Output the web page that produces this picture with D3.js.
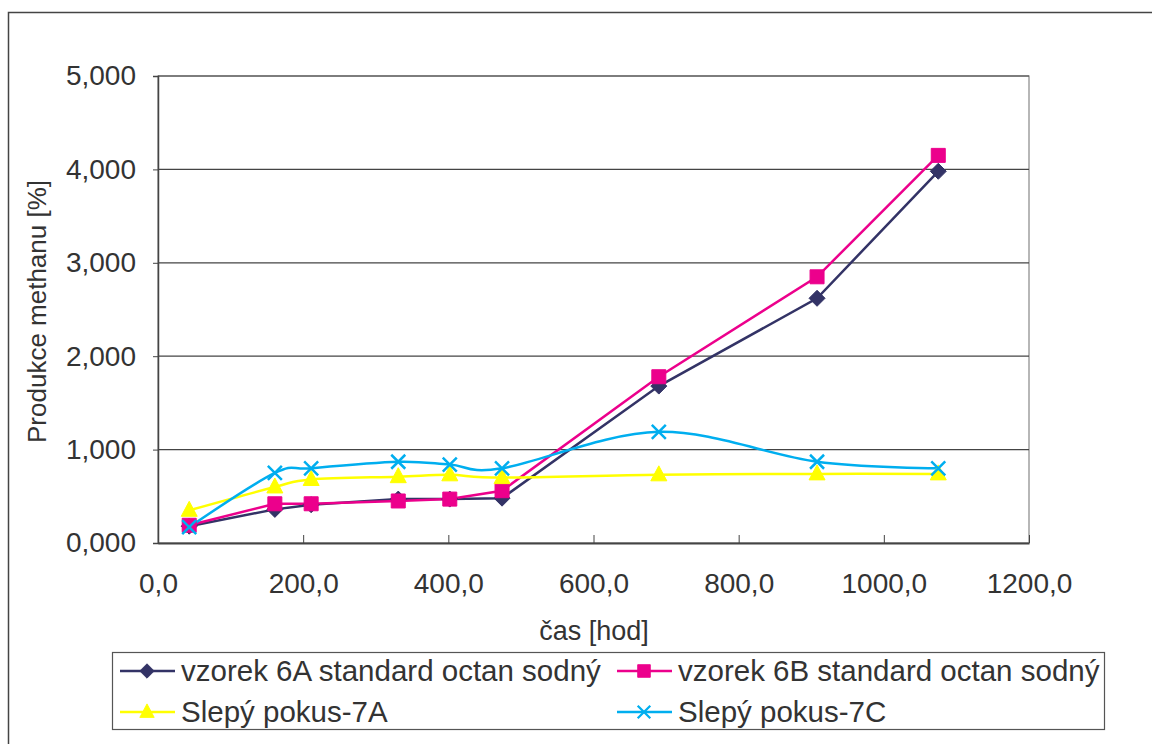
<!DOCTYPE html>
<html>
<head>
<meta charset="utf-8">
<script src="https://cdn.jsdelivr.net/npm/d3@7"></script>
<style>
  body { margin: 0; background: #fff; }
  text { font-family: "Liberation Sans", Arial, sans-serif; fill: #333; }
</style>
</head>
<body>
<script>
// data
let hours = [43, 161, 211, 331, 402, 474, 690, 908, 1075];
let vzorek6A = [0.18, 0.36, 0.41, 0.47, 0.47, 0.48, 1.68, 2.62, 3.98];
let vzorek6B = [0.19, 0.42, 0.42, 0.45, 0.47, 0.56, 1.78, 2.85, 4.15];
let slepy7A = [0.35, 0.60, 0.68, 0.71, 0.73, 0.70, 0.73, 0.74, 0.74];
let slepy7C = [0.17, 0.75, 0.80, 0.87, 0.84, 0.80, 1.19, 0.87, 0.80];
let seriesNames = ["vzorek 6A standard octan sodný", "vzorek 6B standard octan sodný", "Slepý pokus-7A", "Slepý pokus-7C"];
let xTicks = [0, 200, 400, 600, 800, 1000, 1200];
let yTicks = [0, 1, 2, 3, 4, 5];

let series = [
  {name: seriesNames[0], values: vzorek6A, color: "#333366", marker: "diamond", smooth: false},
  {name: seriesNames[1], values: vzorek6B, color: "#ec008c", marker: "square", smooth: false},
  {name: seriesNames[2], values: slepy7A, color: "#ffff00", marker: "triangle", smooth: true},
  {name: seriesNames[3], values: slepy7C, color: "#00aeef", marker: "cross", smooth: true}
];

let W = 1152, H = 744;
let margin = {top: 76, right: 123, bottom: 201, left: 158},
    width = W - margin.left - margin.right,
    height = H - margin.top - margin.bottom;

let svg = d3.select("body").append("svg")
    .attr("width", W)
    .attr("height", H);

// outer chart border
svg.append("rect")
    .attr("x", 8.5).attr("y", 12.5)
    .attr("width", W + 20).attr("height", H + 20)
    .attr("fill", "none").attr("stroke", "#444").attr("stroke-width", 1.5);

let g = svg.append("g")
    .attr("transform", "translate(" + margin.left + "," + margin.top + ")");

let x = d3.scaleLinear().domain([0, 1200]).range([0, width]);
let y = d3.scaleLinear().domain([0, 5]).range([height, 0]);

// plot frame
g.append("rect")
    .attr("width", width).attr("height", height)
    .attr("fill", "none").attr("stroke", "#888").attr("stroke-width", 1.2);

// gridlines
g.selectAll(".grid").data(yTicks.slice(1))
  .enter().append("line")
    .attr("x1", 0).attr("x2", width)
    .attr("y1", d => y(d)).attr("y2", d => y(d))
    .attr("stroke", "#444").attr("stroke-width", 1.2);

// y axis
let yAxis = g.append("g")
    .call(d3.axisLeft(y).tickValues(yTicks).tickSize(5).tickPadding(17)
      .tickFormat(d => d3.format(".3f")(d).replace(".", ",")));
yAxis.select(".domain").attr("stroke", "#444").attr("stroke-width", 1.5);
yAxis.selectAll(".tick line").attr("stroke", "#444");
yAxis.selectAll("text").attr("font-size", 28).attr("fill", "#333");

// x axis
let xAxis = g.append("g")
    .attr("transform", "translate(0," + height + ")")
    .call(d3.axisBottom(x).tickValues(xTicks).tickSizeInner(-8).tickSizeOuter(0).tickPadding(0)
      .tickFormat(d => d3.format(".1f")(d).replace(".", ",")));
xAxis.select(".domain").attr("stroke", "#444").attr("stroke-width", 2);
xAxis.selectAll(".tick line").attr("stroke", "#444");
xAxis.selectAll("text").attr("font-size", 28).attr("fill", "#333")
    .attr("dy", null).attr("y", 50);

// axis titles
svg.append("text")
    .attr("x", 594).attr("y", 640)
    .attr("text-anchor", "middle").attr("font-size", 27)
    .text("čas [hod]");
svg.append("text")
    .attr("transform", "translate(46,443) rotate(-90)")
    .attr("text-anchor", "start").attr("font-size", 26)
    .text("Produkce methanu [%]");

function markerPath(type) {
  if (type === "diamond") return "M0,-8L8,0L0,8L-8,0Z";
  if (type === "square") return "M-7,-7H7V7H-7Z";
  if (type === "triangle") return "M0,-9L8,6H-8Z";
  return "M-7,-7L7,7M-7,7L7,-7";
}

function drawMarker(sel, s) {
  sel.append("path")
    .attr("d", markerPath(s.marker))
    .attr("fill", s.marker === "cross" ? "none" : s.color)
    .attr("stroke", s.color)
    .attr("stroke-width", s.marker === "cross" ? 2.5 : 1);
}

series.forEach(function(s) {
  let line = d3.line()
      .x((d, i) => x(hours[i]))
      .y(d => y(d))
      .curve(s.smooth ? d3.curveCardinal.tension(0) : d3.curveLinear);
  g.append("path")
      .datum(s.values)
      .attr("fill", "none")
      .attr("stroke", s.color)
      .attr("stroke-width", 2.5)
      .attr("d", line);
});

series.forEach(function(s) {
  s.values.forEach(function(v, i) {
    let m = g.append("g").attr("transform", "translate(" + x(hours[i]) + "," + y(v) + ")");
    drawMarker(m, s);
  });
});

// legend
let legend = svg.append("g");
legend.append("rect")
    .attr("x", 112.5).attr("y", 652.5).attr("width", 992).attr("height", 77)
    .attr("fill", "#fff").attr("stroke", "#555").attr("stroke-width", 1.2);

let legendX = [120, 617], legendY = [671, 712];
series.forEach(function(s, i) {
  let item = legend.append("g")
      .attr("transform", "translate(" + legendX[i % 2] + "," + legendY[Math.floor(i / 2)] + ")");
  item.append("line").attr("x1", 0).attr("x2", 55)
      .attr("stroke", s.color).attr("stroke-width", 2.5);
  let m = item.append("g").attr("transform", "translate(27,0) scale(0.9)");
  drawMarker(m, s);
  item.append("text")
      .attr("x", 61).attr("y", 10)
      .attr("font-size", 29.5)
      .text(s.name);
});
</script>
</body>
</html>
